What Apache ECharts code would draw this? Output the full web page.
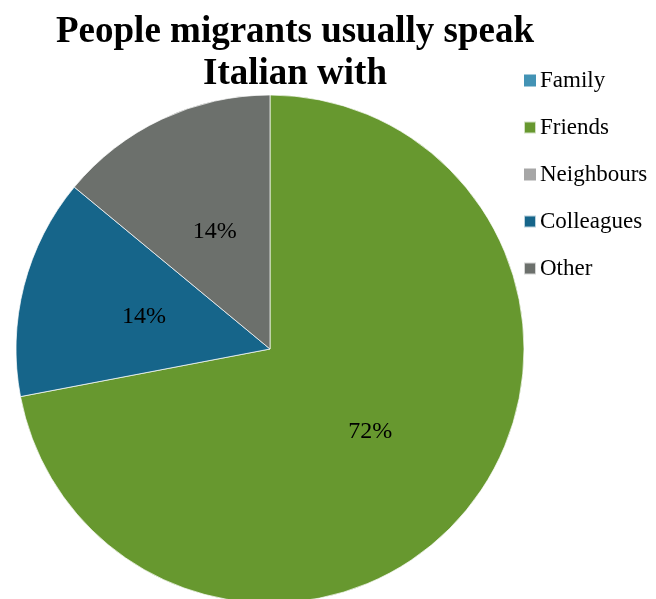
<!DOCTYPE html>
<html>
<head>
<meta charset="utf-8">
<script src="https://cdn.jsdelivr.net/npm/echarts@6/dist/echarts.min.js"></script>
<style>
  html, body { margin: 0; padding: 0; background: #fff; }
  #chart { width: 656px; height: 599px; }
</style>
</head>
<body>
<div id="chart"></div>
<script>
// Who migrants usually speak Italian with (share of respondents, %)
const categories = ['Family', 'Friends', 'Neighbours', 'Colleagues', 'Other'];
const shares = [0, 72, 0, 14, 14];
const colors = ['#4393B5', '#67982F', '#A6A6A6', '#16658A', '#6C706C'];

const serif = '"Liberation Serif", "Times New Roman", serif';

const pieData = categories.map((name, i) => ({
  name: name,
  value: shares[i],
  itemStyle: { color: colors[i], borderWidth: shares[i] > 0 ? 1 : 0 },
  label: { show: shares[i] > 0 }
}));

const chart = echarts.init(document.getElementById('chart'), null, { renderer: 'canvas' });
chart.setOption({
  animation: false,
  backgroundColor: '#ffffff',
  title: {
    text: 'People migrants usually speak\nItalian with',
    left: 290,
    textAlign: 'center',
    top: 6,
    textStyle: {
      fontFamily: serif,
      fontWeight: 'bold',
      fontSize: 37,
      lineHeight: 42,
      color: '#000'
    }
  },
  legend: {
    orient: 'vertical',
    left: 518,
    top: 64,
    itemWidth: 12,
    itemHeight: 12,
    itemGap: 24,
    icon: 'rect',
    data: categories,
    textStyle: {
      fontFamily: serif,
      fontSize: 23,
      color: '#000',
      padding: [0, 0, 0, -1]
    },
    selectedMode: false
  },
  series: [{
    type: 'pie',
    center: [270, 349],
    radius: 254,
    startAngle: 90,
    clockwise: true,
    stillShowZeroSum: true,
    avoidLabelOverlap: false,
    itemStyle: { borderColor: 'rgba(255,255,255,0.7)' },
    label: {
      position: 'inside',
      formatter: '{c}%',
      fontFamily: serif,
      fontSize: 24,
      color: '#000'
    },
    labelLine: { show: false },
    emphasis: { disabled: true },
    data: pieData
  }]
});
</script>
</body>
</html>
